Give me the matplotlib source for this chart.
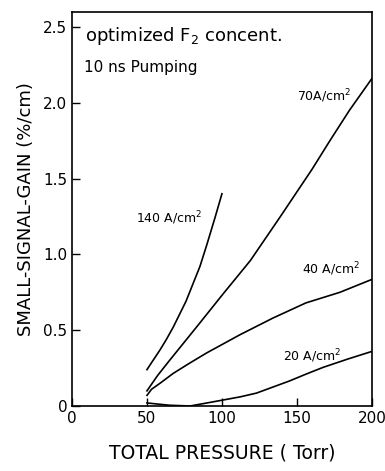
import matplotlib.pyplot as plt

# values (pressure in Torr, gain in %/cm)
p_140 = [50, 54, 58.7, 63, 67.5, 76, 85.3, 89.8, 95.3, 100]
g_140 = [0.24, 0.30, 0.37, 0.44, 0.52, 0.69, 0.92, 1.06, 1.24, 1.40]

p_70 = [50, 57, 65, 74, 83, 100, 119, 139, 160, 172, 185, 200]
g_70 = [0.10, 0.20, 0.30, 0.41, 0.52, 0.73, 0.96, 1.25, 1.56, 1.75, 1.95, 2.16]

p_40 = [50, 53, 58.7, 67.5, 78, 89.8, 112, 134, 156, 178.7, 200]
g_40 = [0.07, 0.11, 0.15, 0.215, 0.28, 0.35, 0.47, 0.58, 0.68, 0.75, 0.835]

p_20 = [50, 65, 78.7, 90, 101, 112, 123, 134, 145, 156, 167.5, 184, 200]
g_20 = [0.02, 0.005, 0.0, 0.02, 0.04, 0.06, 0.085, 0.125, 0.165, 0.21, 0.255, 0.31, 0.36]

labels = ["140 A/cm$^2$", "70A/cm$^2$", "40 A/cm$^2$", "20 A/cm$^2$"]
label_pos = [(65, 1.24), (168, 2.04), (173, 0.90), (160, 0.33)]

x_ticks = [0, 50, 100, 150, 200]
y_ticks = [0, 0.5, 1.0, 1.5, 2.0, 2.5]
y_ticklabels = ["0", "0.5", "1.0", "1.5", "2.0", "2.5"]

plt.rcParams["font.family"] = "DejaVu Sans"
fig = plt.figure(figsize=(3.85, 4.71), dpi=100)
ax = fig.add_axes([0.187, 0.138, 0.779, 0.837])

for p, g in [(p_140, g_140), (p_70, g_70), (p_40, g_40), (p_20, g_20)]:
    ax.plot(p, g, color="black", lw=1.2)

for lab, (x, y) in zip(labels, label_pos):
    ax.text(x, y, lab, fontsize=9, ha="center", va="center")

ax.text(9, 2.44, "optimized F$_2$ concent.", fontsize=13, va="center")
ax.text(8, 2.23, "10 ns Pumping", fontsize=11, va="center")

ax.set_xlim(0, 200)
ax.set_ylim(0, 2.6)
ax.set_xticks(x_ticks)
ax.set_yticks(y_ticks)
ax.set_yticklabels(y_ticklabels)
ax.tick_params(direction="in", length=6, width=1, labelsize=11)
for s in ax.spines.values():
    s.set_linewidth(1.2)

ax.set_ylabel("SMALL-SIGNAL-GAIN (%/cm)", fontsize=13, labelpad=6)
ax.set_xlabel("TOTAL PRESSURE ( Torr)", fontsize=13.5, labelpad=13)

fig.savefig("out.png", dpi=100)
